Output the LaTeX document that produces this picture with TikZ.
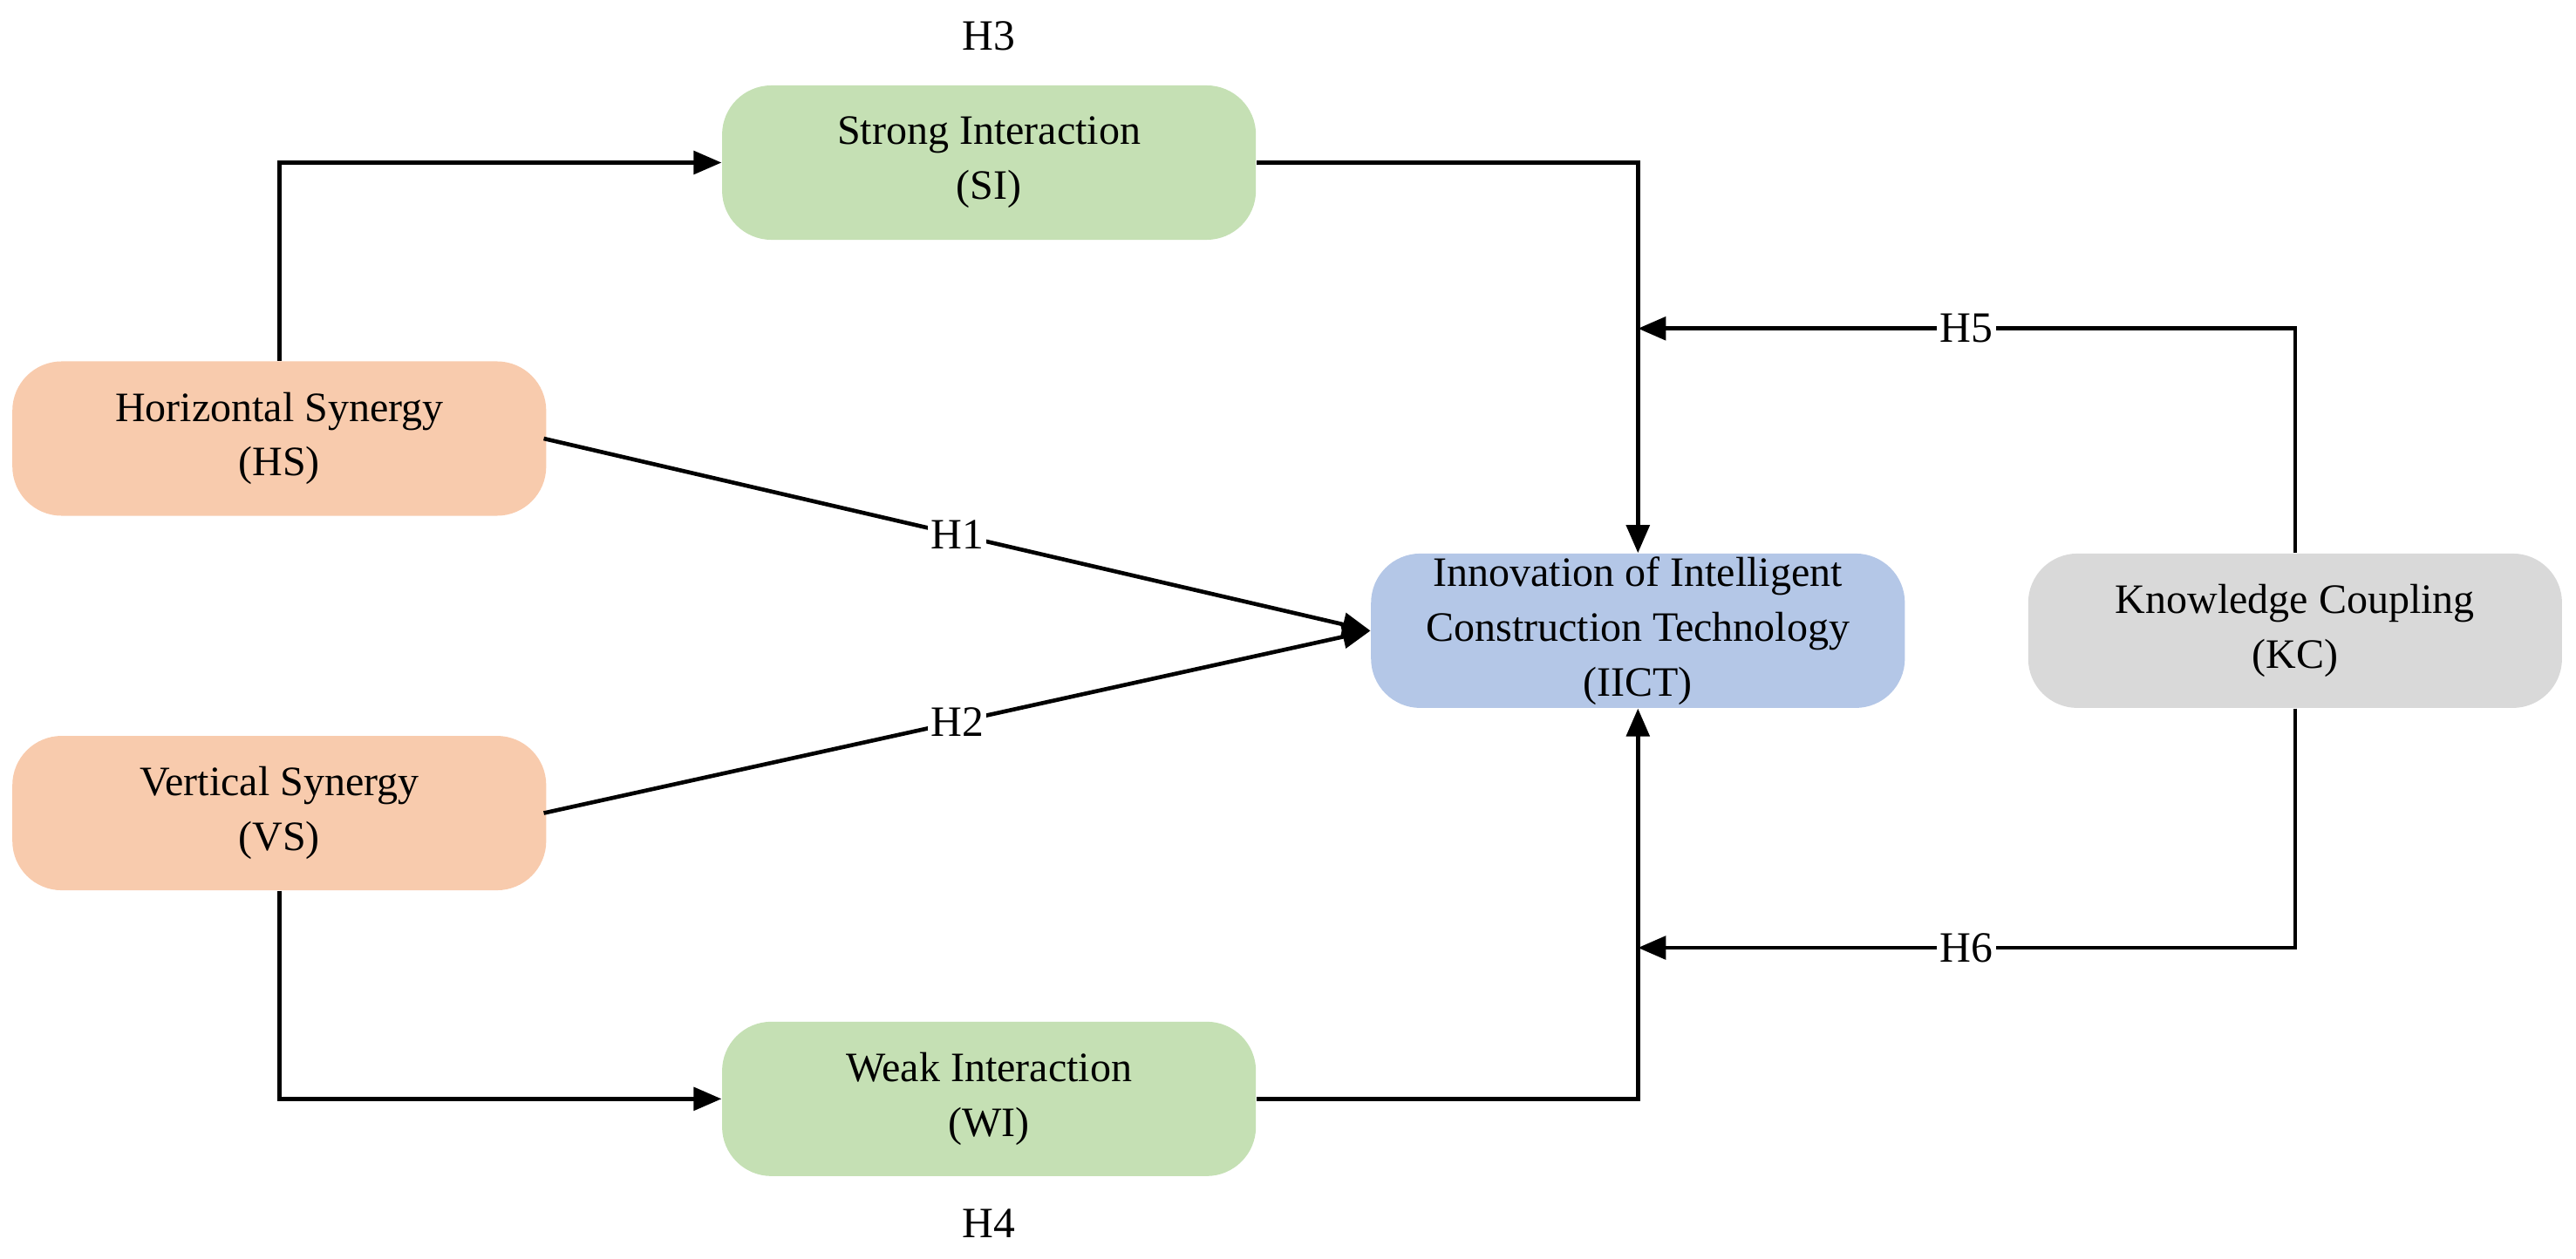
\documentclass[tikz,border=0pt]{standalone}
\usepackage{fontspec}
\setmainfont{Liberation Serif}
\usetikzlibrary{arrows.meta}
\definecolor{orng}{HTML}{F8CBAD}
\definecolor{grn}{HTML}{C5E0B4}
\definecolor{blu}{HTML}{B4C7E7}
\definecolor{gry}{HTML}{D9D9D9}
\begin{document}
\begin{tikzpicture}[x=0.02cm,y=-0.02cm,
 box/.style={rounded corners=0.6cm,minimum width=6.5cm,minimum height=1.88cm,align=center,font=\fontsize{14.5}{19}\selectfont,inner sep=0pt},
 arr/.style={line width=1.4pt,-{Triangle[length=0.34cm,width=0.28cm]}},
 lab/.style={fill=white,inner sep=1pt,font=\fontsize{15}{18}\selectfont}]
\useasboundingbox (0,0) rectangle (1568,766);
\node[box,fill=grn] (SI) at (602,99) {Strong Interaction\\(SI)};
\node[box,fill=orng] (HS) at (170,267) {Horizontal Synergy\\(HS)};
\node[box,fill=orng] (VS) at (170,495) {Vertical Synergy\\(VS)};
\node[box,fill=grn] (WI) at (602,669) {Weak Interaction\\(WI)};
\node[box,fill=blu] (IICT) at (997,384) {Innovation of Intelligent\\Construction Technology\\(IICT)};
\node[box,fill=gry] (KC) at (1397,384) {Knowledge Coupling\\(KC)};
\node[font=\fontsize{15}{18}\selectfont] (H3) at (602,22) {H3};
\node[font=\fontsize{15}{18}\selectfont] (H4) at (602,745) {H4};
\coordinate (m5) at (997,200);
\coordinate (m6) at (997,577);
\draw[arr] (HS.north) |- (SI.west);
\draw[arr] (SI.east) -| (IICT.north);
\draw[arr] (VS.south) |- (WI.west);
\draw[arr] (WI.east) -| (IICT.south);
\draw[arr] (KC.north) |- node[lab,pos=0.75]{H5} (m5);
\draw[arr] (KC.south) |- node[lab,pos=0.75]{H6} (m6);
\draw[arr] (HS.east) ++(0,0) coordinate (hse) (331,267) -- node[lab]{H1} (IICT.west);
\draw[arr] (331,495) -- node[lab]{H2} (IICT.west);
\end{tikzpicture}
\end{document}
